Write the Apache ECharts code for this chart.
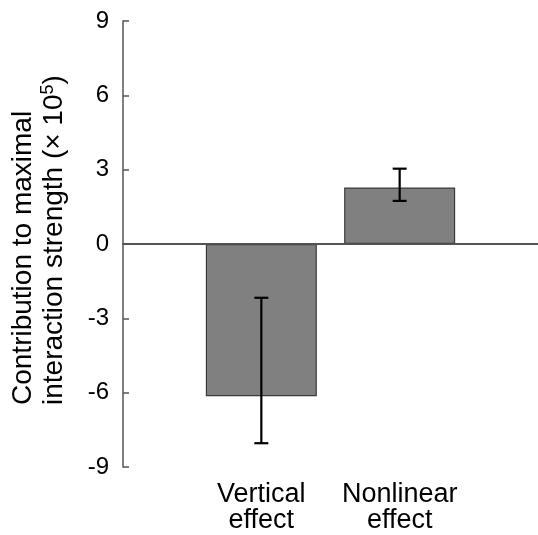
<!DOCTYPE html>
<html>
<head>
<meta charset="utf-8">
<script src="https://cdn.jsdelivr.net/npm/echarts@6/dist/echarts.min.js"></script>
<style>html,body{margin:0;padding:0;background:#fff}#c{width:538px;height:535px}</style>
</head>
<body>
<div id="c"></div>
<script>
const categories = ['Vertical\neffect', 'Nonlinear\neffect'];
const means = [-6.14, 2.28];
const errLow = [-8.04, 1.74];
const errHigh = [-2.17, 3.04];
const yMin = -9, yMax = 9, yStep = 3;
const yTitle = '{a|Contribution to maximal}\n{a|interaction strength (× 10}{s|5}{a|)}';

const FONT = '"Liberation Sans", Arial, sans-serif';
const barData = means.map((v, i) => [i + 1, v]);
const errData = means.map((v, i) => [i + 1, errLow[i], errHigh[i]]);

const chart = echarts.init(document.getElementById('c'), null, {renderer: 'canvas'});
chart.setOption({
  animation: false,
  backgroundColor: '#fff',
  grid: {left: 123, right: 0, top: 21, bottom: 68},
  graphic: [{
    type: 'text', x: 39, y: 405, rotation: Math.PI / 2,
    style: {
      text: yTitle, align: 'left', verticalAlign: 'middle',
      fontFamily: FONT, fontSize: 28, fill: '#000',
      rich: {
        a: {fontFamily: FONT, fontSize: 28, lineHeight: 31, fill: '#000'},
        s: {fontFamily: FONT, fontSize: 18, lineHeight: 18, verticalAlign: 'top', fill: '#000'}
      }
    }
  }],
  xAxis: {
    type: 'value', min: 0, max: categories.length + 1, interval: 1,
    axisLine: {show: true, lineStyle: {color: '#555', width: 2}},
    axisTick: {show: false},
    splitLine: {show: false},
    axisLabel: {
      formatter: v => (v >= 1 && v <= categories.length) ? categories[v - 1] : '',
      fontFamily: FONT, fontSize: 27, lineHeight: 26, color: '#000', margin: 15,
      showMinLabel: false, showMaxLabel: false
    }
  },
  yAxis: {
    type: 'value', min: yMin, max: yMax, interval: yStep,
    axisLine: {show: true, lineStyle: {color: '#555', width: 1.5}},
    axisTick: {show: true, inside: true, length: 6, lineStyle: {color: '#555', width: 1.5}},
    splitLine: {show: false},
    axisLabel: {fontFamily: FONT, fontSize: 24, color: '#000', margin: 14}
  },
  series: [
    {
      type: 'bar', data: barData, barWidth: 111,
      itemStyle: {color: '#808080', borderColor: '#3a3a3a', borderWidth: 1.2},
      markLine: {
        silent: true, symbol: ['none', 'none'], label: {show: false},
        lineStyle: {color: '#555', width: 1.5, type: 'solid'},
        data: [{yAxis: 0}]
      },
      z: 2
    },
    {
      type: 'custom', data: errData, z: 5,
      renderItem: (params, api) => {
        const x = api.value(0);
        const lo = api.coord([x, api.value(1)]);
        const hi = api.coord([x, api.value(2)]);
        const cap = 7;
        const st = {stroke: '#000', lineWidth: 2.2};
        return {type: 'group', children: [
          {type: 'line', shape: {x1: lo[0], y1: lo[1], x2: hi[0], y2: hi[1]}, style: st},
          {type: 'line', shape: {x1: lo[0] - cap, y1: lo[1], x2: lo[0] + cap, y2: lo[1]}, style: st},
          {type: 'line', shape: {x1: hi[0] - cap, y1: hi[1], x2: hi[0] + cap, y2: hi[1]}, style: st}
        ]};
      }
    }
  ]
});
</script>
</body>
</html>
